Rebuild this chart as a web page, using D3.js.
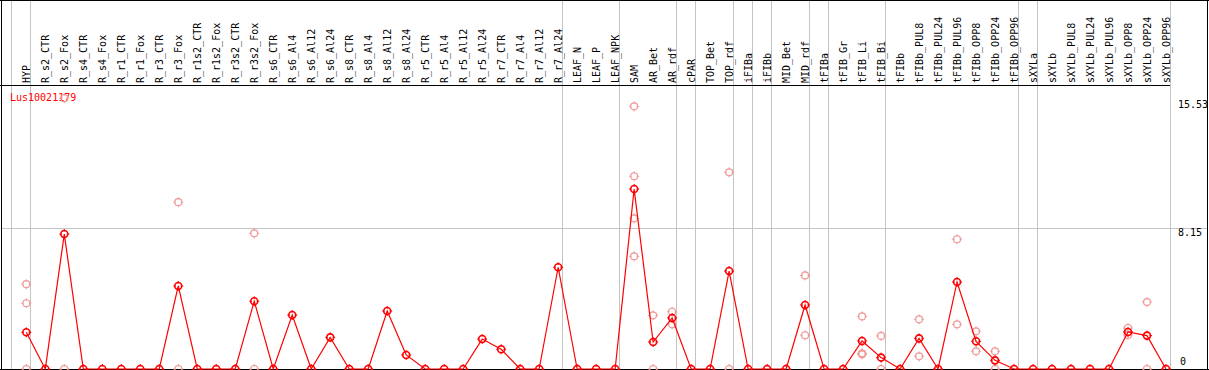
<!DOCTYPE html>
<html><head><meta charset="utf-8">
<script src="https://cdn.jsdelivr.net/npm/d3@7"></script>
<style>
html,body{margin:0;padding:0;background:#fff;}
svg{display:block;}
text{font-family:"DejaVu Sans Mono",monospace;font-size:10px;}
</style></head>
<body>
<script>
const categories = ["HYP","R_s2_CTR","R_s2_Fox","R_s4_CTR","R_s4_Fox","R_r1_CTR","R_r1_Fox","R_r3_CTR","R_r3_Fox","R_r1s2_CTR","R_r1s2_Fox","R_r3s2_CTR","R_r3s2_Fox","R_s6_CTR","R_s6_Al4","R_s6_Al12","R_s6_Al24","R_s8_CTR","R_s8_Al4","R_s8_Al12","R_s8_Al24","R_r5_CTR","R_r5_Al4","R_r5_Al12","R_r5_Al24","R_r7_CTR","R_r7_Al4","R_r7_Al12","R_r7_Al24","LEAF_N","LEAF_P","LEAF_NPK","SAM","AR_Bet","AR_rdf","cPAR","TOP_Bet","TOP_rdf","iFIBa","iFIBb","MID_Bet","MID_rdf","tFIBa","tFIB_Gr","tFIB_Li","tFIB_Bi","tFIBb","tFIBb_PUL8","tFIBb_PUL24","tFIBb_PUL96","tFIBb_OPP8","tFIBb_OPP24","tFIBb_OPP96","sXYLa","sXYLb","sXYLb_PUL8","sXYLb_PUL24","sXYLb_PUL96","sXYLb_OPP8","sXYLb_OPP24","sXYLb_OPP96"];
const means = [2.12,0,7.8,0,0,0,0,0,4.8,0,0,0,3.92,0,3.12,0,1.83,0,0,3.35,0.81,0,0,0,1.73,1.14,0,0,5.88,0,0,0,10.4,1.56,2.95,0,0,5.66,0,0,0,3.7,0,0,1.62,0.66,0,1.77,0,5.03,1.6,0.5,0,0,0,0,0,0,2.14,1.93,0];
const replicates = [
  ["HYP",[4.9,3.8,0]],["R_s2_Fox",[15.65,0]],["R_r3_Fox",[9.64,0]],["R_r3s2_Fox",[7.84,0]],
  ["SAM",[15.18,11.14,8.71,6.51]],["AR_Bet",[3.1,0]],["AR_rdf",[3.31,2.58]],["TOP_rdf",[11.37,0]],
  ["MID_rdf",[5.41,1.95]],["tFIB_Li",[3.04,0.91,0.85]],["tFIB_Bi",[1.91,0]],
  ["tFIBb_PUL8",[2.87,0.73]],["tFIBb_PUL96",[7.5,2.58]],["tFIBb_OPP8",[2.18,1.02]],
  ["tFIBb_OPP24",[1.02,0]],["sXYLb_OPP8",[2.37,1.97]],["sXYLb_OPP24",[3.87,0]]
];
const groupSizes = [1,28,3,3,1,2,1,1,2,1,3,7,1,7];
const yTicks = [0,8.15,15.53];
const geneId = "Lus10021179";

const W = 1209, H = 370;
const svg = d3.select("body").append("svg").attr("width",W).attr("height",H);
const x = d3.scalePoint().domain(categories).range([26.3,1166]);
const y = d3.scaleLinear().domain([0,15.53]).range([369,100.3]);

// gridline at middle tick
svg.append("line").attr("x1",1).attr("x2",1208).attr("y1",Math.round(y(8.15))+0.5).attr("y2",Math.round(y(8.15))+0.5)
  .attr("stroke","#c4c4c4").attr("stroke-width",1);

// group separators
let idx = -1;
const seps = [idx];
groupSizes.forEach(s=>{idx+=s; seps.push(idx);});
const step = x.step();
seps.forEach(i=>{
  const px = Math.round(x.range()[0] + step*i + 4) + 0.5;
  svg.append("line").attr("x1",px).attr("x2",px).attr("y1",0).attr("y2",369)
    .attr("stroke","#c4c4c4").attr("stroke-width",1);
});

// frame
svg.append("line").attr("x1",0).attr("x2",W).attr("y1",0.5).attr("y2",0.5).attr("stroke","#000");
svg.append("line").attr("x1",1.5).attr("x2",1.5).attr("y1",0).attr("y2",370).attr("stroke","#000");
svg.append("line").attr("x1",1207.5).attr("x2",1207.5).attr("y1",0).attr("y2",370).attr("stroke","#000");
svg.append("line").attr("x1",0).attr("x2",W).attr("y1",369.5).attr("y2",369.5).attr("stroke","#000");
svg.append("line").attr("x1",0).attr("x2",1170).attr("y1",85.5).attr("y2",85.5).attr("stroke","#000");

// column labels
svg.append("g").selectAll("text").data(categories).join("text")
  .attr("transform",d=>`translate(${x(d)+3.8},83) rotate(-90)`)
  .attr("fill","#000").text(d=>d);

// gene id
svg.append("text").attr("x",10).attr("y",101).attr("fill","#ff0000").text(geneId);

// y labels
svg.append("g").selectAll("text").data(yTicks).join("text")
  .attr("x",d=>d===0?1180:1178)
  .attr("y",d=>d===0?365:y(d)+8)
  .attr("fill","#000").text(d=>d===0?"0":d.toFixed(2));

function marker(g, cx, cy, color, sw){
  g.append("circle").attr("cx",cx).attr("cy",cy).attr("r",3.5).attr("fill","none")
    .attr("stroke",color).attr("stroke-width",sw);
  [[0,-1],[0,1],[-1,0],[1,0]].forEach(([dx,dy])=>{
    g.append("line").attr("x1",cx+dx*2.5).attr("y1",cy+dy*2.5).attr("x2",cx+dx*5).attr("y2",cy+dy*5)
      .attr("stroke",color).attr("stroke-width",1);
  });
}

// replicates
const rg = svg.append("g");
replicates.forEach(([c,vals])=>vals.forEach(v=>marker(rg,x(c),y(v),"#f09a9a",1.2)));

// line
const line = d3.line().x((d,i)=>x(categories[i])).y(d=>y(d));
svg.append("path").datum(means).attr("d",line).attr("fill","none").attr("stroke","#ff0000").attr("stroke-width",1.2);

// mean markers
const mg = svg.append("g");
means.forEach((v,i)=>marker(mg,x(categories[i]),y(v),"#ff0000",1.6));
</script>
</body></html>
